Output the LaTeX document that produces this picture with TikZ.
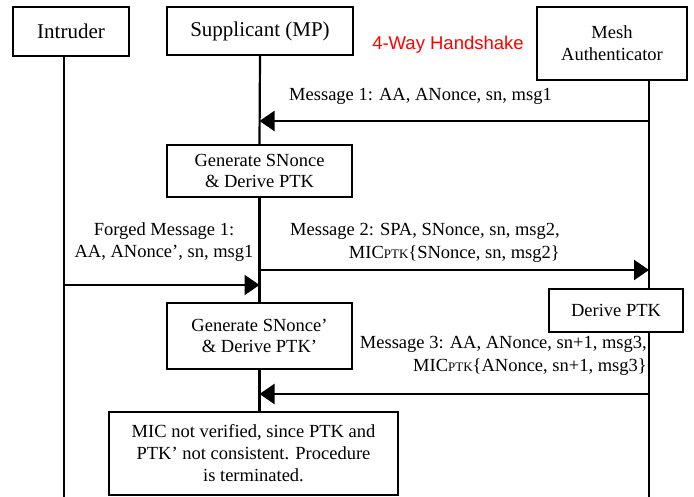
\documentclass[tikz,border=0pt]{standalone}
\usepackage{fontspec}
\setmainfont{Liberation Serif}
\newfontfamily\headfont{Liberation Sans}
\usetikzlibrary{arrows.meta, positioning, calc}
\newcommand{\Ptk}{{\fontsize{13}{13}\selectfont PTK}}
\tikzset{
    party/.style={draw, line width=2.2pt, align=center, inner sep=0pt, font=\fontsize{21}{23}\selectfont},
    task/.style={draw, line width=2.2pt, align=center, inner sep=0pt, font=\fontsize{18.5}{21}\selectfont},
    msgtext/.style={inner sep=0pt, font=\fontsize{18.5}{22.5}\selectfont},
    lifeline/.style={line width=2.2pt},
    msg/.style={line width=2.2pt, -{Triangle[length=15pt, width=20pt]}},
}

\begin{document}
\begin{tikzpicture}[x=1pt, y=-1pt]
    \useasboundingbox (0,0) rectangle (694,497);

    \node[party, minimum width=116pt, minimum height=49pt] (intruder) at (71,31.5) {Intruder};
    \node[party, minimum width=186pt, minimum height=48pt] (supp) at (260,31) {Supplicant (MP)};
    \node[party, minimum width=150pt, minimum height=73pt, font=\fontsize{18.5}{22}\selectfont] (mesh) at (612,43.5) {Mesh\\Authenticator};
    \node[text=red, font=\headfont\fontsize{18.5}{18.5}\selectfont] (title) at (448,45) {4-Way Handshake};

    \node[task, minimum width=185pt, minimum height=52pt] (gen1) at (259.5,171) {Generate SNonce\\\& Derive PTK};
    \node[task, minimum width=185pt, minimum height=66pt] (gen2) at (259.5,336) {Generate SNonce'\\\& Derive PTK'};
    \node[task, minimum width=134pt, minimum height=43pt] (derive) at (616,310.5) {Derive PTK};
    \node[task, minimum width=289pt, minimum height=83pt, font=\fontsize{18.5}{22}\selectfont] (verify) at (253.5,453.5) {MIC not verified, since PTK and\\PTK' not consistent. Procedure\\is terminated.};

    % lifelines
    \coordinate (intr-top) at (64,56);
    \coordinate (intr-end) at (64,497);
    \coordinate (mesh-top) at (649,80);
    \coordinate (mesh-end) at (649,497);
    \draw[lifeline] (intr-top) -- (intr-end);
    \draw[lifeline] (supp.south) -- (gen1.north);
    \draw[lifeline] (gen1.south) -- (gen2.north);
    \draw[lifeline] (gen2.south) -- (verify.north -| gen2.south);
    \draw[lifeline] (mesh-top) -- (mesh-top |- derive.north);
    \draw[lifeline] (mesh-top |- derive.south) -- (mesh-end);

    % messages
    \draw[msg] (mesh-top |- 0,121) -- (gen1.north |- 0,121);
    \node[msgtext, anchor=west] (m1) at (289,96) {Message 1: AA, ANonce, sn, msg1};

    \draw[msg] (gen1.south |- 0,270) -- (mesh-top |- 0,270);
    \node[msgtext, align=right, anchor=east] (m2) at (560,243) {Message 2: SPA, SNonce, sn, msg2,\\MIC\Ptk\{SNonce, sn, msg2\}};

    \draw[msg] (intr-top |- 0,285) -- (gen1.south |- 0,285);
    \node[msgtext, align=center] (forged) at (164,242) {Forged Message 1:\\AA, ANonce', sn, msg1};

    \draw[msg] (mesh-top |- 0,394) -- (gen2.south |- 0,394);
    \node[msgtext, align=right, anchor=east] (m3) at (647,356) {Message 3: AA, ANonce, sn+1, msg3,\\MIC\Ptk\{ANonce, sn+1, msg3\}};
\end{tikzpicture}
\end{document}
